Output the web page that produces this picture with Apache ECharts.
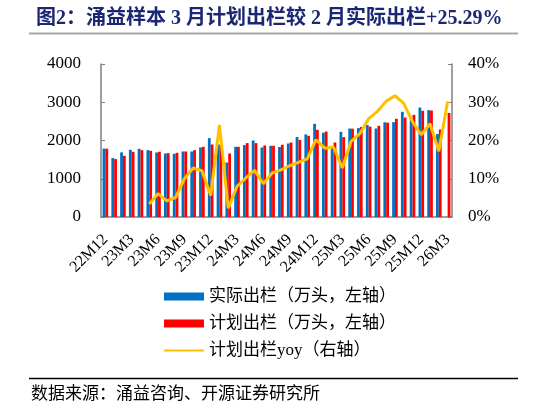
<!DOCTYPE html>
<html>
<head>
<meta charset="utf-8">
<script src="https://cdn.jsdelivr.net/npm/echarts@6/dist/echarts.min.js"></script>
<style>
html,body{margin:0;padding:0;background:#fff;}
#chart{width:546px;height:408px;}
</style>
</head>
<body>
<div id="chart"></div>
<script>
const categories = [
  '22M12','23M1','23M2','23M3','23M4','23M5','23M6','23M7','23M8','23M9','23M10','23M11',
  '23M12','24M1','24M2','24M3','24M4','24M5','24M6','24M7','24M8','24M9','24M10','24M11',
  '24M12','25M1','25M2','25M3','25M4','25M5','25M6','25M7','25M8','25M9','25M10','25M11',
  '25M12','26M1','26M2','26M3'
];
const actual = [
  1790,1540,1690,1757,1783,1748,1687,1661,1653,1713,1713,1817,
  2062,1896,1426,1835,1879,2000,1817,1862,1830,1922,2092,2160,
  2436,2205,1827,2227,2313,2323,2410,2314,2476,2480,2750,2570,
  2862,2794,2170,null
];
const plan = [
  1785,1514,1600,1705,1748,1731,1705,1670,1679,1713,1748,1835,
  1896,1896,1661,1835,1932,1932,1870,1862,1888,1948,2014,2123,
  2279,2235,1948,2089,2309,2355,2362,2384,2466,2567,2601,2671,
  2776,2784,2288,2719
];
const planYoy = [
  null,null,null,null,null,3.4,6.1,4.2,5.1,10.0,12.8,12.1,
  5.6,24.1,2.3,8.0,10.2,12.2,8.7,11.5,12.3,13.4,14.3,15.2,
  20.2,18.0,18.3,12.8,19.8,21.8,25.7,27.6,30.3,31.7,29.7,24.9,
  21.5,24.4,17.2,30.2
];
const leftTicks = [0, 4000, 1000];
const rightTicks = [0, 40, 10];
const titleText = '图2：涌益样本 3 月计划出栏较 2 月实际出栏+25.29%';
const sourceText = '数据来源：涌益咨询、开源证券研究所';
const names = ['实际出栏（万头，左轴）','计划出栏（万头，左轴）','计划出栏yoy（右轴）'];

const serif = '"Liberation Serif", "Noto Sans CJK SC", serif';
const cjk = '"Liberation Serif", "Noto Sans CJK SC", sans-serif';
const axisGray = '#808080';

const chart = echarts.init(document.getElementById('chart'));
chart.setOption({
  animation: false,
  backgroundColor: '#fff',
  title: {
    text: titleText,
    left: 31, top: 4,
    textStyle: { fontFamily: cjk, fontSize: 20, fontWeight: 'bold', color: '#1c2774' }
  },
  graphic: [
    { type: 'line', shape: { x1: 29, y1: 33.5, x2: 518, y2: 33.5 }, style: { stroke: '#a6a6a6', lineWidth: 2 } },
    { type: 'line', shape: { x1: 29, y1: 378.5, x2: 518, y2: 378.5 }, style: { stroke: '#000', lineWidth: 1.5 } },
    { type: 'text', left: 31, top: 386, style: { text: sourceText, font: '17px ' + cjk, fill: '#000' } }
  ],
  legend: {
    orient: 'vertical',
    left: 158, top: 283,
    itemWidth: 40, itemHeight: 8, itemGap: 10,
    textStyle: { fontFamily: cjk, fontSize: 17, color: '#000' },
    data: [
      { name: names[0], icon: 'rect' },
      { name: names[1], icon: 'rect' },
      { name: names[2], itemStyle: { opacity: 0 }, lineStyle: { width: 2, color: '#FFC000' } }
    ]
  },
  grid: { left: 101, right: 94, top: 64, bottom: 191 },
  xAxis: {
    type: 'category',
    data: categories,
    axisLine: { lineStyle: { color: axisGray, width: 1.5 } },
    axisTick: { inside: true, interval: 2, length: 4, lineStyle: { color: '#333' } },
    axisLabel: { interval: 2, rotate: 45, margin: 20, fontFamily: serif, fontSize: 16, color: '#000' }
  },
  yAxis: [
    {
      type: 'value', min: leftTicks[0], max: leftTicks[1], interval: leftTicks[2],
      splitLine: { show: false },
      axisLine: { show: true, lineStyle: { color: axisGray, width: 1.5 } },
      axisTick: { show: true, inside: true, length: 4, lineStyle: { color: axisGray } },
      axisLabel: { margin: 20, formatter: function (v) { return String(v); }, fontFamily: serif, fontSize: 17, color: '#000' }
    },
    {
      type: 'value', min: rightTicks[0], max: rightTicks[1], interval: rightTicks[2],
      splitLine: { show: false },
      axisLine: { show: true, lineStyle: { color: axisGray, width: 1.5 } },
      axisTick: { show: true, inside: true, length: 4, lineStyle: { color: axisGray } },
      axisLabel: { margin: 16, formatter: '{value}%', fontFamily: serif, fontSize: 17, color: '#000' }
    }
  ],
  series: [
    { name: names[0], type: 'bar', data: actual, barWidth: 2.8, barGap: '0%', itemStyle: { color: '#0070C0' } },
    { name: names[1], type: 'bar', data: plan, barWidth: 2.8, barGap: '0%', itemStyle: { color: '#FF0000' } },
    { name: names[2], type: 'line', yAxisIndex: 1, data: planYoy, symbol: 'none', lineStyle: { color: '#FFC000', width: 3 }, itemStyle: { color: '#FFC000' } }
  ]
});
</script>
</body>
</html>
